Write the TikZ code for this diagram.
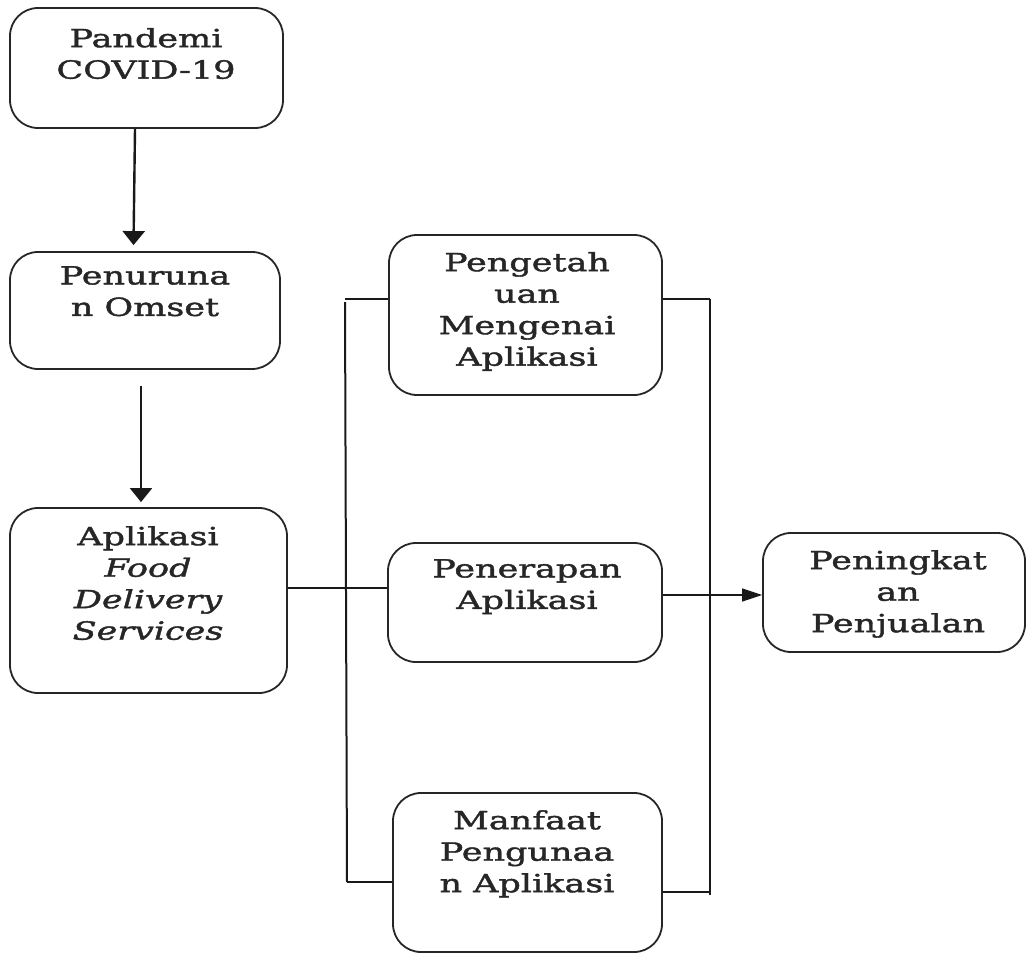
\documentclass[tikz,border=0pt]{standalone}
\usepackage{fontspec}
\setmainfont{DejaVu Serif}[FakeStretch=1.4,FakeBold=1.6]
\usetikzlibrary{arrows.meta}
\begin{document}
\begin{tikzpicture}[x=1pt,y=-1pt,
  box/.style={draw=black!85, line width=1.8pt, rounded corners=28pt, inner sep=0pt},
  txt/.style={align=center, inner sep=0pt, font=\fontsize{25}{31.5}\selectfont, text=black!85, anchor=north},
  conn/.style={draw=black!90, line width=1.5pt},
  arr/.style={conn, -{Triangle[length=14pt,width=22pt]}},
  harr/.style={conn, -{Triangle[length=20pt,width=13pt]}}]
\useasboundingbox (0,0) rectangle (1028,953);
% boxes
\node[box, minimum width=273pt, minimum height=120pt] (pand) at (146.5,68) {};
\node[box, minimum width=270pt, minimum height=117pt] (pen) at (145,310.5) {};
\node[box, minimum width=277pt, minimum height=185pt] (apl) at (148.5,600.5) {};
\node[box, minimum width=273pt, minimum height=160pt] (peng) at (525.5,315) {};
\node[box, minimum width=274pt, minimum height=119pt] (pener) at (525,602.5) {};
\node[box, minimum width=269pt, minimum height=159pt] (manf) at (527.5,872.5) {};
\node[box, minimum width=262pt, minimum height=119pt] (ping) at (894,592.5) {};
% texts
\node[txt] (tpand) at (146,28) {Pandemi\\COVID-19};
\node[txt] (tpen) at (145,266) {Penuruna\\n Omset};
\node[txt] (tapl) at (148,526) {Aplikasi\\\itshape Food\\\itshape Delivery\\\itshape Services};
\node[txt] (tpeng) at (527,252) {Pengetah\\uan\\Mengenai\\Aplikasi};
\node[txt] (tpener) at (527,559) {Penerapan\\Aplikasi};
\node[txt] (tmanf) at (527,810) {Manfaat\\Pengunaa\\n Aplikasi};
\node[txt] (tping) at (898,550) {Peningkat\\an\\Penjualan};
% arrows on the left
\draw[arr, line width=2.4pt] ([xshift=-11.5pt]pand.south) -- ([xshift=-11.5pt,yshift=6pt]pen.north);
\draw[arr, line width=2pt] ([xshift=-4pt,yshift=-16pt]pen.south) -- ([xshift=-7.5pt,yshift=5pt]apl.north);
% link from app box to centre column
\draw[conn] ([yshift=12.5pt]apl.east) -- ([yshift=14.5pt]pener.west);
% brackets
\coordinate (LT) at (345,299);
\coordinate (LV) at (345,302);
\coordinate (LB) at (347,882);
\coordinate (RT) at (710,299);
\coordinate (RB) at (710,895);
\draw[conn] (LT) -- (LT -| peng.west);
\draw[conn, line width=2pt] (LV) -- (LB);
\draw[conn] (LB) -- (LB -| manf.west);
\draw[conn] (peng.east |- RT) -- (RT);
\draw[conn, line width=2pt] (RT) -- (RB);
\draw[conn] (manf.east |- 0,892) -- (710,892);
% output arrow
\draw[harr] ([yshift=7.5pt]pener.east) -- ([yshift=-2.5pt]ping.west);
\end{tikzpicture}
\end{document}
